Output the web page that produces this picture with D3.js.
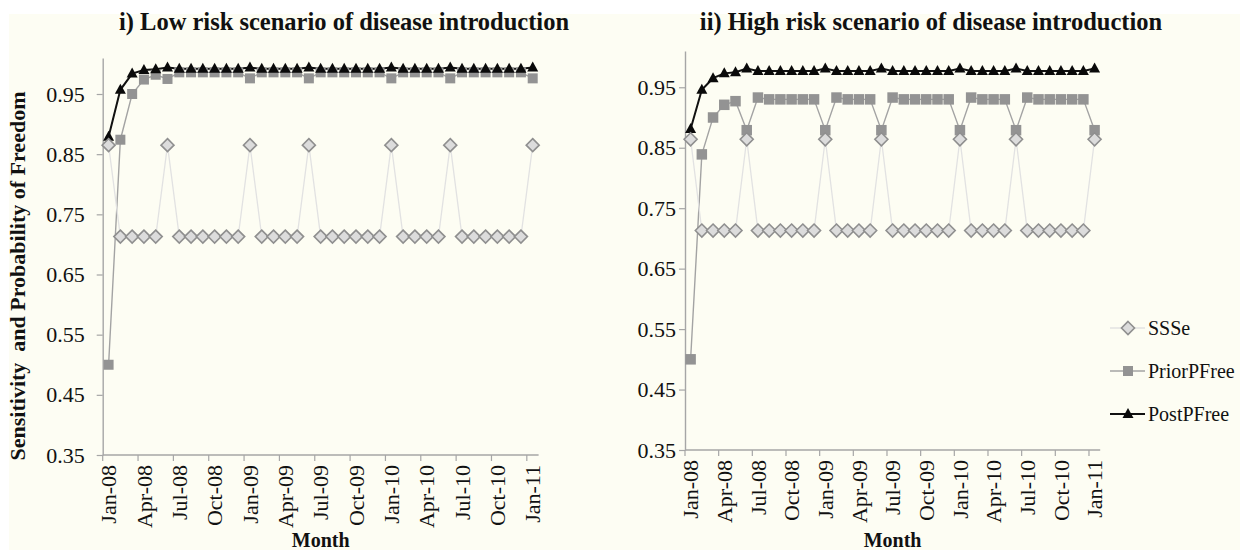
<!DOCTYPE html>
<html>
<head>
<meta charset="utf-8">
<script src="https://cdn.jsdelivr.net/npm/d3@7"></script>
<style>
  html, body { margin: 0; padding: 0; background: #ffffff; }
  svg { display: block; }
</style>
</head>
<body>
<svg id="chart" width="1240" height="550"></svg>
<script>
// ---------------- DATA ----------------
const months = ["Jan-08","Feb-08","Mar-08","Apr-08","May-08","Jun-08","Jul-08","Aug-08","Sep-08","Oct-08","Nov-08","Dec-08",
                "Jan-09","Feb-09","Mar-09","Apr-09","May-09","Jun-09","Jul-09","Aug-09","Sep-09","Oct-09","Nov-09","Dec-09",
                "Jan-10","Feb-10","Mar-10","Apr-10","May-10","Jun-10","Jul-10","Aug-10","Sep-10","Oct-10","Nov-10","Dec-10",
                "Jan-11"];
const tickMonths = ["Jan-08","Apr-08","Jul-08","Oct-08","Jan-09","Apr-09","Jul-09","Oct-09","Jan-10","Apr-10","Jul-10","Oct-10","Jan-11"];
const yTicks = [0.35, 0.45, 0.55, 0.65, 0.75, 0.85, 0.95];
const seriesNames = ["SSSe", "PriorPFree", "PostPFree"];

const lowSSSe = [0.865,0.713,0.713,0.713,0.713,0.865,0.713,0.713,0.713,0.713,0.713,0.713,
                 0.865,0.713,0.713,0.713,0.713,0.865,0.713,0.713,0.713,0.713,0.713,0.713,
                 0.865,0.713,0.713,0.713,0.713,0.865,0.713,0.713,0.713,0.713,0.713,0.713,
                 0.865];
const lowPrior = [0.500,0.874,0.950,0.974,0.982,0.975,0.986,0.986,0.986,0.986,0.986,0.986,
                  0.976,0.986,0.986,0.986,0.986,0.976,0.986,0.986,0.986,0.986,0.986,0.986,
                  0.976,0.986,0.986,0.986,0.986,0.976,0.986,0.986,0.986,0.986,0.986,0.986,
                  0.976];
const lowPost = [0.879,0.957,0.984,0.990,0.991,0.994,0.992,0.992,0.992,0.992,0.992,0.992,
                 0.994,0.992,0.992,0.992,0.992,0.994,0.992,0.992,0.992,0.992,0.992,0.992,
                 0.994,0.992,0.992,0.992,0.992,0.994,0.992,0.992,0.992,0.992,0.992,0.992,
                 0.994];

const highSSSe = [0.864,0.713,0.713,0.713,0.713,0.864,0.713,0.713,0.713,0.713,0.713,0.713,
                  0.864,0.713,0.713,0.713,0.713,0.864,0.713,0.713,0.713,0.713,0.713,0.713,
                  0.864,0.713,0.713,0.713,0.713,0.864,0.713,0.713,0.713,0.713,0.713,0.713,
                  0.864];
const highPrior = [0.500,0.839,0.900,0.921,0.927,0.879,0.933,0.930,0.930,0.930,0.930,0.930,
                   0.879,0.933,0.930,0.930,0.930,0.879,0.933,0.930,0.930,0.930,0.930,0.930,
                   0.879,0.933,0.930,0.930,0.930,0.879,0.933,0.930,0.930,0.930,0.930,0.930,
                   0.879];
const highPost = [0.881,0.946,0.965,0.973,0.975,0.981,0.977,0.977,0.977,0.977,0.977,0.977,
                  0.981,0.977,0.977,0.977,0.977,0.981,0.977,0.977,0.977,0.977,0.977,0.977,
                  0.981,0.977,0.977,0.977,0.977,0.981,0.977,0.977,0.977,0.977,0.977,0.977,
                  0.981];

// ---------------- DRAW ----------------
const svg = d3.select("#chart");
const FONT = "'Liberation Serif', 'Times New Roman', Times, serif";
const CREAM = "#fdfdf3";
const AXIS = "#a6a6a6";

svg.append("rect").attr("x", 9).attr("y", 14).attr("width", 1231).attr("height", 536).attr("fill", CREAM);

const diamondPath = "M0,-6.5L6.5,0L0,6.5L-6.5,0Z";
const trianglePath = "M0,-6L5.5,4L-5.5,4Z";

function drawMarker(g, type, x, y, sq) {
  if (type === "SSSe") {
    g.append("path").attr("d", diamondPath).attr("transform", `translate(${x},${y})`)
      .attr("fill", "#dcdcdc").attr("stroke", "#8f8f8f").attr("stroke-width", 1.6);
  } else if (type === "PriorPFree") {
    g.append("rect").attr("x", x - sq / 2).attr("y", y - sq / 2).attr("width", sq).attr("height", sq)
      .attr("fill", "#939393");
  } else {
    g.append("path").attr("d", trianglePath).attr("transform", `translate(${x},${y})`)
      .attr("fill", "#0a0a0a");
  }
}

const lineStyle = {
  SSSe: { stroke: "#e2e2e2", width: 1.3 },
  PriorPFree: { stroke: "#a3a3a3", width: 1.4 },
  PostPFree: { stroke: "#111111", width: 2 }
};

function panel(cfg) {
  const g = svg.append("g");
  const x = d3.scaleBand().domain(months).range([cfg.x0, cfg.x1]).padding(0);
  const y = d3.scaleLinear().domain([0.35, 1.01]).range([cfg.yBottom, cfg.yTop]);
  const cx = m => x(m) + x.bandwidth() / 2;

  // y axis
  const yAxis = d3.axisLeft(y).tickValues(yTicks).tickFormat(d3.format(".2f"))
    .tickSize(6).tickPadding(cfg.yPad).tickSizeOuter(0);
  const ya = g.append("g").attr("transform", `translate(${cfg.x0},0)`).call(yAxis);
  ya.select(".domain").attr("stroke", AXIS).attr("stroke-width", 1.4);
  ya.selectAll(".tick line").attr("stroke", AXIS).attr("stroke-width", 1.2);
  ya.selectAll(".tick text").attr("font-family", FONT).attr("font-size", 22).attr("fill", "#111");

  // x axis (category boundaries as ticks, labels centred on the month)
  g.append("line").attr("x1", cfg.x0).attr("x2", cfg.x1).attr("y1", cfg.yBottom).attr("y2", cfg.yBottom)
    .attr("stroke", AXIS).attr("stroke-width", 1.4);
  g.selectAll(".xt").data(tickMonths).enter().append("line")
    .attr("x1", d => x(d)).attr("x2", d => x(d))
    .attr("y1", cfg.yBottom).attr("y2", cfg.yBottom + 6)
    .attr("stroke", AXIS).attr("stroke-width", 1.2);
  g.selectAll(".xl").data(tickMonths).enter().append("text")
    .attr("transform", d => `translate(${cx(d)},${cfg.yBottom + 10}) rotate(-90)`)
    .attr("text-anchor", "end").attr("dy", "0.35em")
    .attr("font-family", FONT).attr("font-size", 22).attr("fill", "#111")
    .text(d => d);

  // series
  const series = [
    { name: "PriorPFree", vals: cfg.prior },
    { name: "PostPFree", vals: cfg.post },
    { name: "SSSe", vals: cfg.ssse }
  ];
  const line = d3.line().x((d, i) => cx(months[i])).y(d => y(d));
  series.forEach(s => {
    g.append("path").datum(s.vals).attr("d", line).attr("fill", "none")
      .attr("stroke", lineStyle[s.name].stroke).attr("stroke-width", lineStyle[s.name].width);
  });
  series.forEach(s => {
    const mg = g.append("g");
    s.vals.forEach((v, i) => drawMarker(mg, s.name, cx(months[i]), y(v), cfg.sq));
  });

  // titles
  g.append("text").attr("x", cfg.titleX).attr("y", 30).attr("text-anchor", "middle")
    .attr("font-family", FONT).attr("font-size", 24.5).attr("font-weight", "bold").attr("fill", "#111")
    .text(cfg.title);
  g.append("text").attr("x", (cfg.x0 + cfg.x1) / 2).attr("y", 547).attr("text-anchor", "middle")
    .attr("font-family", FONT).attr("font-size", 20).attr("font-weight", "bold").attr("fill", "#111")
    .text("Month");
}

panel({
  x0: 102.7, x1: 538.6, yTop: 57.9, yBottom: 455, yPad: 12, sq: 10,
  ssse: lowSSSe, prior: lowPrior, post: lowPost,
  title: "i) Low risk scenario of disease introduction", titleX: 344
});
panel({
  x0: 685, x1: 1100.2, yTop: 51, yBottom: 450, yPad: 3, sq: 10.5,
  ssse: highSSSe, prior: highPrior, post: highPost,
  title: "ii) High risk scenario of disease introduction", titleX: 931
});

// y-axis label
svg.append("text").attr("transform", "translate(17,276) rotate(-90)")
  .attr("text-anchor", "middle").attr("dy", "0.35em")
  .attr("font-family", FONT).attr("font-size", 22).attr("font-weight", "bold").attr("fill", "#111")
  .attr("xml:space", "preserve").style("white-space", "pre")
  .text("Sensitivity  and Probability of Freedom");

// legend
const legend = svg.append("g");
seriesNames.forEach((name, i) => {
  const ly = 328 + i * 43;
  legend.append("line").attr("x1", 1110).attr("x2", 1145).attr("y1", ly).attr("y2", ly)
    .attr("stroke", lineStyle[name].stroke).attr("stroke-width", lineStyle[name].width);
  drawMarker(legend, name, 1128, ly, 10);
  legend.append("text").attr("x", 1148).attr("y", ly).attr("dy", "0.35em")
    .attr("font-family", FONT).attr("font-size", 20).attr("fill", "#111").text(name);
});
</script>
</body>
</html>
